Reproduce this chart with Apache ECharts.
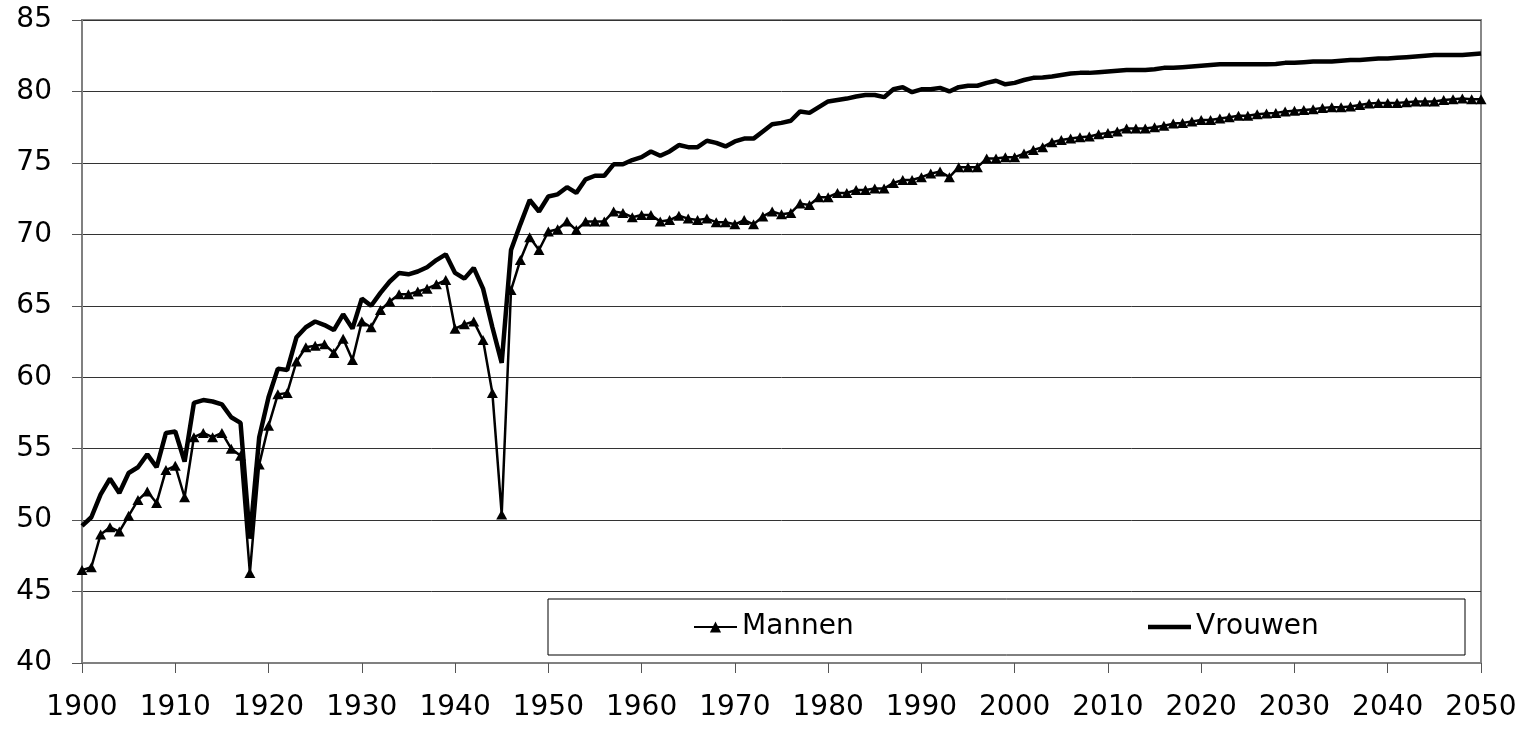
<!DOCTYPE html>
<html>
<head>
<meta charset="utf-8">
<title>Levensverwachting</title>
<script src="https://cdn.jsdelivr.net/npm/echarts@6/dist/echarts.min.js"></script>
<style>
  html, body { margin: 0; padding: 0; background: #fff; }
  #main { width: 1527px; height: 734px; }
</style>
</head>
<body>
<div id="main"></div>
<script>
// categories: every year 1900 .. 2050
var years = []
for (var y = 1900; y <= 2050; y++) years.push(String(y))

// y axis range
var yMin = 40
var yMax = 85
var yStep = 5

var mannen = [
  46.5, 46.7, 49.0, 49.5, 49.2, 50.3, 51.4, 52.0, 51.2, 53.5, // 1900
  53.8, 51.6, 55.8, 56.1, 55.8, 56.1, 55.0, 54.5, 46.3, 53.9, // 1910
  56.6, 58.8, 58.9, 61.1, 62.1, 62.2, 62.3, 61.7, 62.7, 61.2, // 1920
  63.9, 63.5, 64.7, 65.3, 65.8, 65.8, 66.0, 66.2, 66.5, 66.8, // 1930
  63.4, 63.7, 63.9, 62.6, 58.9, 50.4, 66.1, 68.2, 69.8, 68.9, // 1940
  70.2, 70.35, 70.9, 70.3, 70.9, 70.9, 70.9, 71.6, 71.5, 71.2, // 1950
  71.35, 71.35, 70.9, 71.0, 71.3, 71.1, 71.0, 71.1, 70.85, 70.85, // 1960
  70.7, 71.0, 70.7, 71.25, 71.6, 71.4, 71.5, 72.15, 72.05, 72.6, // 1970
  72.6, 72.9, 72.9, 73.1, 73.1, 73.2, 73.2, 73.6, 73.8, 73.8, // 1980
  74.0, 74.25, 74.4, 74.0, 74.7, 74.7, 74.7, 75.3, 75.3, 75.4, // 1990
  75.4, 75.65, 75.9, 76.1, 76.45, 76.6, 76.7, 76.8, 76.85, 77.0, // 2000
  77.1, 77.2, 77.4, 77.4, 77.4, 77.5, 77.6, 77.75, 77.8, 77.9, // 2010
  78.0, 78.0, 78.1, 78.2, 78.3, 78.3, 78.4, 78.45, 78.5, 78.6, // 2020
  78.65, 78.7, 78.75, 78.85, 78.9, 78.9, 78.95, 79.05, 79.15, 79.2, // 2030
  79.2, 79.2, 79.25, 79.3, 79.3, 79.3, 79.4, 79.45, 79.5, 79.45, // 2040
  79.45 // 2050
]

var vrouwen = [
  49.6, 50.2, 51.8, 52.9, 51.9, 53.3, 53.7, 54.6, 53.7, 56.1, // 1900
  56.2, 54.1, 58.2, 58.4, 58.3, 58.1, 57.2, 56.8, 48.7, 55.8, // 1910
  58.6, 60.6, 60.5, 62.8, 63.5, 63.9, 63.65, 63.3, 64.4, 63.4, // 1920
  65.5, 65.0, 65.9, 66.7, 67.3, 67.2, 67.4, 67.7, 68.2, 68.6, // 1930
  67.3, 66.9, 67.65, 66.2, 63.5, 61.0, 68.9, 70.7, 72.4, 71.6, // 1940
  72.65, 72.8, 73.3, 72.9, 73.85, 74.1, 74.1, 74.9, 74.9, 75.2, // 1950
  75.4, 75.8, 75.5, 75.8, 76.25, 76.1, 76.1, 76.55, 76.4, 76.15, // 1960
  76.5, 76.7, 76.7, 77.2, 77.7, 77.8, 77.95, 78.6, 78.5, 78.9, // 1970
  79.3, 79.4, 79.5, 79.65, 79.75, 79.75, 79.6, 80.15, 80.3, 79.95, // 1980
  80.15, 80.15, 80.25, 80.0, 80.3, 80.4, 80.4, 80.6, 80.75, 80.5, // 1990
  80.6, 80.8, 80.95, 80.98, 81.05, 81.15, 81.25, 81.3, 81.3, 81.35, // 2000
  81.4, 81.45, 81.5, 81.5, 81.5, 81.55, 81.65, 81.65, 81.7, 81.75, // 2010
  81.8, 81.85, 81.9, 81.9, 81.9, 81.9, 81.9, 81.9, 81.92, 82.0, // 2020
  82.0, 82.05, 82.1, 82.1, 82.1, 82.15, 82.2, 82.2, 82.25, 82.3, // 2030
  82.3, 82.35, 82.4, 82.45, 82.5, 82.55, 82.55, 82.55, 82.55, 82.6, // 2040
  82.65 // 2050
]

var FONT = 'DejaVu Sans'
var FS = 28

// measure legend texts so the two entries sit where the reference has them
var ctx = document.createElement('canvas').getContext('2d')
ctx.font = FS + 'px "' + FONT + '"'
var wM = ctx.measureText('Mannen').width
var wV = ctx.measureText('Vrouwen').width
var boxLeft = 548, boxRight = 1464
var icon1 = 693, icon2 = 1147, iconW = 43
var gap = icon2 - (icon1 + iconW + 5 + wM)
var padRight = boxRight - (icon2 + iconW + 5 + wV)

var myChart = echarts.init(document.getElementById('main'))
var option = {
  animation: false,
  backgroundColor: '#fff',
  grid: {
    left: 82,
    right: 46,
    top: 20,
    bottom: 71,
    show: true,
    borderColor: '#888',
    borderWidth: 2,
    backgroundColor: 'transparent'
  },
  legend: {
    left: boxLeft,
    top: 599,
    padding: [14, Math.max(padRight, 5), 14, icon1 - boxLeft],
    itemGap: gap,
    itemWidth: iconW,
    itemHeight: 14,
    symbolKeepAspect: true,
    borderColor: '#000',
    borderWidth: 1,
    backgroundColor: '#fff',
    textStyle: { fontFamily: FONT, fontSize: FS, color: '#000', lineHeight: 28 },
    data: [
      { name: 'Mannen' },
      // plain thick bar, no marker
      { name: 'Vrouwen', icon: 'path://M0,0L100,0L100,10L0,10Z', itemStyle: { color: '#000' } }
    ]
  },
  xAxis: {
    type: 'category',
    boundaryGap: false,
    data: years,
    axisLine: { lineStyle: { color: '#808080', width: 2 } },
    axisTick: { interval: 9, length: 10, lineStyle: { color: '#555', width: 1 } },
    axisLabel: { interval: 9, margin: 31, fontFamily: FONT, fontSize: FS, color: '#000' },
    splitLine: { show: false }
  },
  yAxis: {
    type: 'value',
    min: yMin,
    max: yMax,
    interval: yStep,
    axisLine: { show: true, lineStyle: { color: '#808080', width: 2 } },
    axisTick: { show: true, length: 10, lineStyle: { color: '#555', width: 1 } },
    axisLabel: { margin: 30, fontFamily: FONT, fontSize: FS, color: '#000' },
    splitLine: { lineStyle: { color: '#333', width: 1 } }
  },
  series: [
    {
      name: 'Mannen',
      type: 'line',
      data: mannen,
      symbol: 'triangle',
      symbolSize: [11, 10],
      showAllSymbol: true,
      lineStyle: { color: '#000', width: 2.5 },
      itemStyle: { color: '#000' },
      z: 2
    },
    {
      name: 'Vrouwen',
      type: 'line',
      data: vrouwen,
      symbol: 'none',
      lineStyle: { color: '#000', width: 4.5 },
      itemStyle: { color: '#000' },
      z: 3
    }
  ]
}
option && myChart.setOption(option)
</script>
</body>
</html>
